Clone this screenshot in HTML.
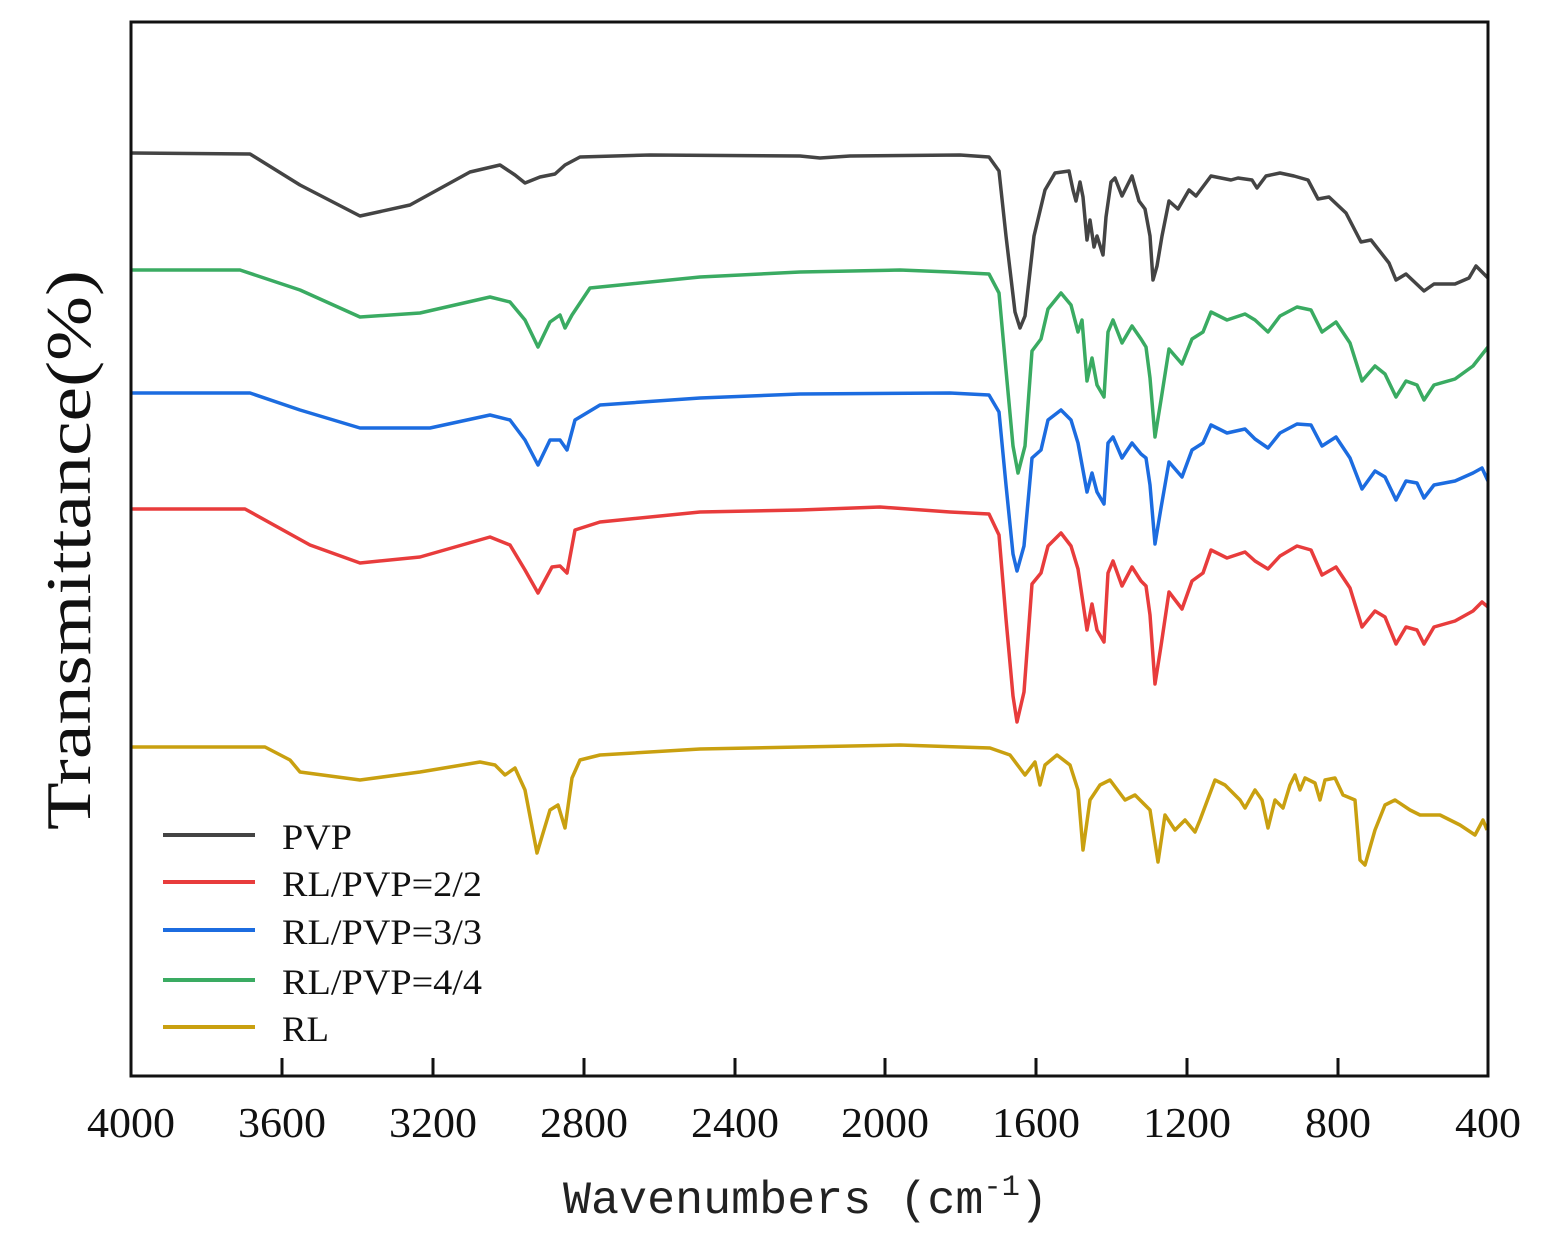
<!DOCTYPE html>
<html><head><meta charset="utf-8"><style>body{margin:0;background:#fff}svg{display:block}</style></head><body>
<svg width="1543" height="1235" xmlns="http://www.w3.org/2000/svg">
<rect width="1543" height="1235" fill="#fff"/>
<g fill="none" stroke-width="3.5" stroke-linejoin="round">
<polyline stroke="#444" points="131,153 250,154 300,185 360,216 410,205 470,172 500,165 515,175 525,183 540,177 555,174 565,165 580,157 650,155 800,156 820,158 850,156 960,155 989,157 999,171 1006,236 1015,312 1020,328 1025,316 1034,236 1045,190 1055,173 1069,171 1073,190 1076,201 1080,182 1083,197 1087,240 1090,220 1094,247 1097,236 1103,255 1106,217 1111,182 1115,178 1122,196 1132,176 1139,201 1145,209 1150,236 1153,280 1157,266 1162,236 1169,201 1178,209 1189,190 1196,196 1211,176 1231,180 1238,178 1252,180 1257,188 1266,176 1280,173 1294,176 1308,180 1318,199 1329,197 1346,213 1361,242 1371,240 1389,263 1396,280 1406,274 1424,291 1434,284 1455,284 1469,278 1476,266 1488,278"/>
<polyline stroke="#3aab62" points="131,270 240,270 300,290 360,317 420,313 490,297 510,302 525,320 538,347 550,322 560,315 565,328 572,315 590,288 620,285 700,277 800,272 900,270 950,272 989,274 999,293 1006,370 1013,446 1018,473 1025,446 1032,351 1041,339 1048,309 1061,293 1071,305 1078,332 1082,320 1087,381 1092,358 1097,385 1104,397 1108,332 1113,320 1122,343 1132,326 1141,339 1146,347 1150,378 1155,437 1161,400 1169,349 1182,364 1192,339 1203,332 1211,312 1227,320 1245,314 1255,320 1268,332 1280,316 1297,307 1311,310 1322,332 1336,322 1350,343 1362,381 1375,366 1385,374 1396,397 1406,381 1417,385 1424,400 1434,385 1455,379 1473,366 1488,347"/>
<polyline stroke="#1c6ce0" points="131,393 250,393 300,410 360,428 430,428 490,415 510,420 525,440 538,465 550,440 560,440 567,450 575,420 600,405 700,398 800,394 950,393 989,395 999,412 1006,485 1013,554 1017,571 1024,546 1032,458 1041,450 1048,420 1061,410 1071,420 1078,443 1087,492 1092,473 1097,492 1104,504 1108,443 1113,437 1122,458 1132,443 1141,454 1146,458 1150,485 1155,544 1161,508 1169,462 1182,477 1192,450 1203,443 1211,425 1227,433 1245,429 1255,439 1268,448 1280,433 1297,424 1311,425 1322,446 1336,437 1350,458 1362,489 1375,471 1385,477 1396,500 1406,481 1417,483 1424,498 1434,485 1455,481 1473,473 1482,468 1488,481"/>
<polyline stroke="#e83c3c" points="131,509 245,509 310,545 360,563 420,557 490,537 510,545 525,570 538,593 552,567 560,566 567,573 575,530 600,522 700,512 800,510 880,507 950,512 989,514 999,535 1006,619 1013,696 1017,722 1024,692 1032,584 1041,573 1048,546 1061,533 1071,546 1078,569 1087,630 1092,604 1097,630 1104,642 1108,573 1113,561 1122,586 1132,567 1141,581 1146,586 1150,615 1155,684 1161,646 1169,592 1182,609 1192,581 1203,573 1211,550 1227,558 1245,552 1255,561 1268,569 1280,556 1297,546 1311,550 1322,575 1336,567 1350,588 1362,627 1375,611 1385,617 1396,644 1406,627 1417,630 1424,644 1434,627 1455,621 1473,611 1482,602 1488,607"/>
<polyline stroke="#c9a010" points="131,747 265,747 290,760 300,772 360,780 420,772 480,762 495,765 505,775 515,768 525,790 537,853 550,810 558,805 565,828 572,778 580,760 600,755 700,749 800,747 900,745 990,748 1010,755 1025,775 1035,762 1040,785 1045,765 1057,755 1070,765 1078,790 1083,850 1090,800 1100,785 1110,780 1125,800 1135,795 1150,810 1158,862 1165,815 1175,830 1185,820 1195,832 1200,820 1215,780 1225,785 1240,800 1245,808 1255,790 1262,800 1268,828 1275,800 1283,808 1290,785 1295,775 1300,790 1305,778 1315,783 1320,800 1325,780 1335,778 1343,795 1355,800 1360,860 1365,865 1375,830 1385,805 1395,800 1410,810 1420,815 1440,815 1460,825 1475,835 1483,820 1487,830"/>
</g>
<rect x="131" y="22" width="1357" height="1054" fill="none" stroke="#111" stroke-width="3"/>
<g stroke="#111" stroke-width="3">
<line x1="282" y1="1076" x2="282" y2="1058"/><line x1="433" y1="1076" x2="433" y2="1058"/><line x1="584" y1="1076" x2="584" y2="1058"/><line x1="735" y1="1076" x2="735" y2="1058"/><line x1="885" y1="1076" x2="885" y2="1058"/><line x1="1036" y1="1076" x2="1036" y2="1058"/><line x1="1187" y1="1076" x2="1187" y2="1058"/><line x1="1338" y1="1076" x2="1338" y2="1058"/>
</g>
<g font-family="Liberation Serif, serif" font-size="42" fill="#111" text-anchor="middle">
<text x="131" y="1137" textLength="88" lengthAdjust="spacingAndGlyphs">4000</text>
<text x="282" y="1137" textLength="88" lengthAdjust="spacingAndGlyphs">3600</text>
<text x="433" y="1137" textLength="88" lengthAdjust="spacingAndGlyphs">3200</text>
<text x="584" y="1137" textLength="88" lengthAdjust="spacingAndGlyphs">2800</text>
<text x="735" y="1137" textLength="88" lengthAdjust="spacingAndGlyphs">2400</text>
<text x="885" y="1137" textLength="88" lengthAdjust="spacingAndGlyphs">2000</text>
<text x="1036" y="1137" textLength="88" lengthAdjust="spacingAndGlyphs">1600</text>
<text x="1187" y="1137" textLength="88" lengthAdjust="spacingAndGlyphs">1200</text>
<text x="1338" y="1137" textLength="66" lengthAdjust="spacingAndGlyphs">800</text>
<text x="1488" y="1137" textLength="66" lengthAdjust="spacingAndGlyphs">400</text>
</g>
<text x="563" y="1213" font-family="Liberation Mono, monospace" font-size="46" fill="#222" textLength="485" lengthAdjust="spacingAndGlyphs">Wavenumbers (cm<tspan dy="-18" font-size="30">-1</tspan><tspan dy="18">)</tspan></text>
<text transform="translate(90,550) rotate(-90)" text-anchor="middle" font-family="Liberation Serif, serif" font-size="64" fill="#111" textLength="560" lengthAdjust="spacingAndGlyphs">Transmittance(%)</text>
<g stroke-width="4">
<line x1="163" y1="835" x2="255" y2="835" stroke="#444"/>
<line x1="163" y1="882" x2="255" y2="882" stroke="#e83c3c"/>
<line x1="163" y1="930" x2="255" y2="930" stroke="#1c6ce0"/>
<line x1="163" y1="980" x2="255" y2="980" stroke="#3aab62"/>
<line x1="163" y1="1027" x2="255" y2="1027" stroke="#c9a010"/>
</g>
<g font-family="Liberation Serif, serif" font-size="36" fill="#111">
<text x="282" y="849" textLength="70" lengthAdjust="spacingAndGlyphs">PVP</text>
<text x="282" y="896" textLength="200" lengthAdjust="spacingAndGlyphs">RL/PVP=2/2</text>
<text x="282" y="944" textLength="200" lengthAdjust="spacingAndGlyphs">RL/PVP=3/3</text>
<text x="282" y="994" textLength="200" lengthAdjust="spacingAndGlyphs">RL/PVP=4/4</text>
<text x="282" y="1041" textLength="47" lengthAdjust="spacingAndGlyphs">RL</text>
</g>
</svg>
</body></html>
